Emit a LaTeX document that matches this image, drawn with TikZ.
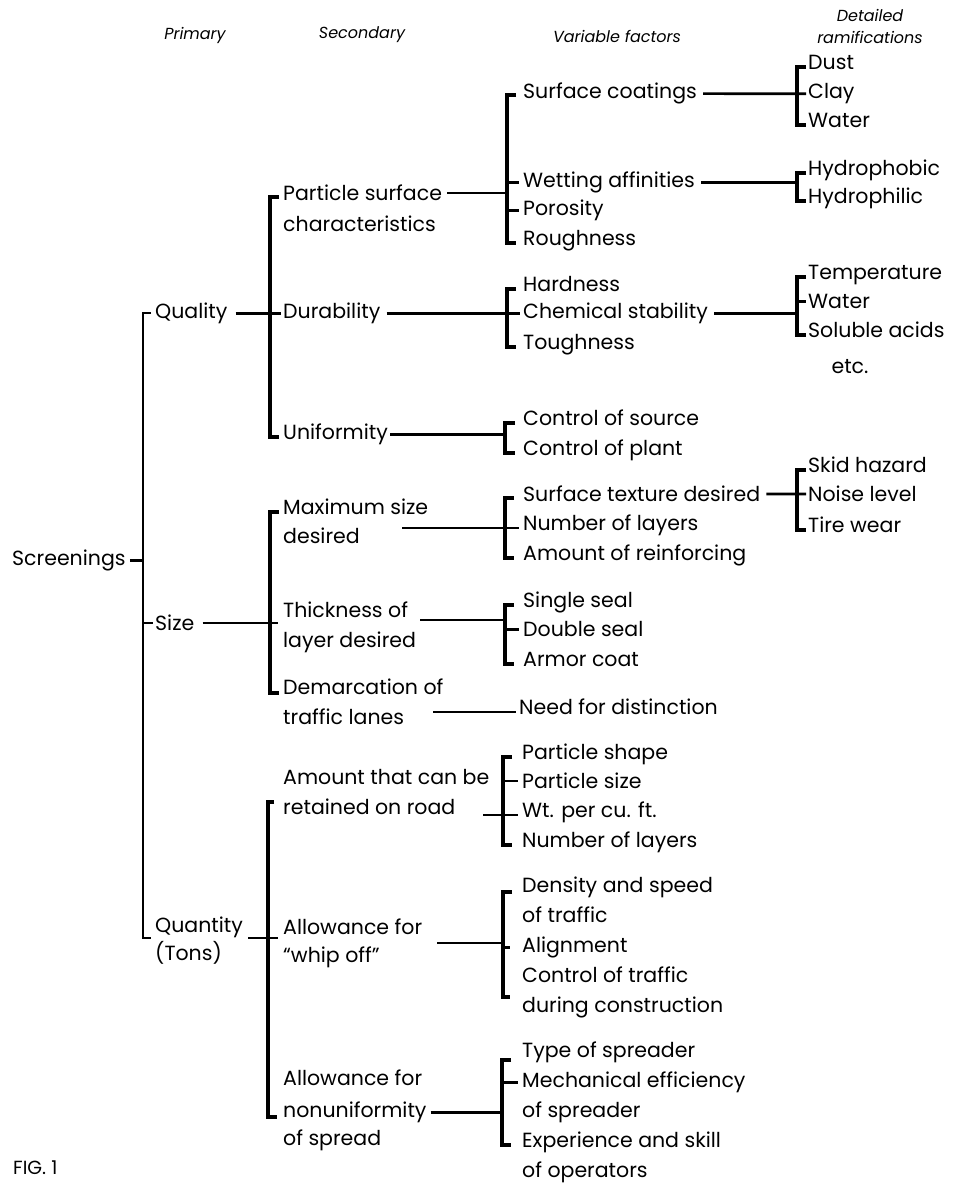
\documentclass[tikz,border=0pt]{standalone}
\usepackage{fontspec}
\setmainfont{Poppins}
\begin{document}
\begin{tikzpicture}[x=1pt,y=-1pt,
  lbl/.style={anchor=mid west, inner sep=0pt, font=\fontsize{20.5}{24}\selectfont},
  hdr/.style={anchor=center, inner sep=0pt, font=\fontsize{16}{22}\selectfont\itshape, align=center},
  ln/.style={line width=2.6pt},
  br/.style={line width=3.2pt, line join=miter},
  brp/.style={line width=2.6pt, line join=miter}]
\useasboundingbox (0,0) rectangle (963,1185);
\fill[white] (0,0) rectangle (963,1185);

% headers
\node[hdr] (hp) at (195,35) {Primary};
\node[hdr] (hs) at (362,35) {Secondary};
\node[hdr] (hv) at (617,36) {Variable factors};
\node[hdr] (hd) at (870,26) {Detailed\\ramifications};

% primary
\node[lbl] (scr) at (12,563) {Screenings};
\node[lbl] (qual) at (155,316) {Quality};
\node[lbl] (size) at (155,628) {Size};
\node[lbl] (quan) at (155,930) {Quantity};
\node[lbl] (tons) at (155,958) {(Tons)};
\coordinate (pt) at (143,313);
\coordinate (pb) at (143,938);
\draw[brp] ([xshift=8]pt) -- (pt) -- (pb) -- ([xshift=8]pb);
\draw[ln] ([xshift=4]scr.east) -- (scr.east -| pt);
\draw[ln] (size.west -| pt) -- ([xshift=-2]size.west);

% secondary A (quality)
\coordinate (sat) at (270,197);
\coordinate (sab) at (270,437);
\draw[br] ([xshift=9]sat) -- (sat) -- (sab) -- ([xshift=9]sab);
\node[lbl] (psc1) at (283,198) {Particle surface};
\node[lbl] (psc2) at (283,229) {characteristics};
\node[lbl] (dur) at (283,316) {Durability};
\node[lbl] (uni) at (283,437) {Uniformity};
\draw[ln] ([xshift=8]qual.east) -- ([xshift=-2]dur.west);

% V1
\coordinate (v1t) at (507,95);
\coordinate (v1b) at (507,243);
\draw[br] ([xshift=9]v1t) -- (v1t) -- (v1b) -- ([xshift=9]v1b);
\node[lbl] (sc) at (523,96) {Surface coatings};
\node[lbl] (wa) at (523,185) {Wetting affinities};
\node[lbl] (por) at (523,213) {Porosity};
\node[lbl] (rou) at (523,243) {Roughness};
\draw[ln] ([xshift=5]psc1.east) -- (psc1.east -| v1t);
\draw[ln] (wa.west -| v1t) -- ([xshift=-4]wa.west);
\draw[ln] (por.west -| v1t) -- ([xshift=-4]por.west);

% D1
\coordinate (d1t) at (797,67);
\coordinate (d1b) at (797,125);
\draw[br] ([xshift=9]d1t) -- (d1t) -- (d1b) -- ([xshift=9]d1b);
\node[lbl] (dust) at (808,67) {Dust};
\node[lbl] (clay) at (808,96) {Clay};
\node[lbl] (water) at (808,125) {Water};
\draw[ln] ([xshift=6]sc.east) -- ([xshift=-2]clay.west);

% D2
\coordinate (d2t) at (797,173);
\coordinate (d2b) at (797,201);
\draw[br] ([xshift=9]d2t) -- (d2t) -- (d2b) -- ([xshift=9]d2b);
\node[lbl] (hyb) at (808,173) {Hydrophobic};
\node[lbl] (hyl) at (808,201) {Hydrophilic};
\draw[ln] ([xshift=6]wa.east) -- (wa.east -| d2t);

% V2
\coordinate (v2t) at (507,289);
\coordinate (v2b) at (507,347);
\draw[br] ([xshift=9]v2t) -- (v2t) -- (v2b) -- ([xshift=9]v2b);
\node[lbl] (hard) at (523,289) {Hardness};
\node[lbl] (cs) at (523,316) {Chemical stability};
\node[lbl] (tough) at (523,347) {Toughness};
\draw[ln] ([xshift=6]dur.east) -- ([xshift=-3]cs.west);

% D3
\coordinate (d3t) at (797,277);
\coordinate (d3b) at (797,335);
\draw[br] ([xshift=9]d3t) -- (d3t) -- (d3b) -- ([xshift=9]d3b);
\node[lbl] (temp) at (808,277) {Temperature};
\node[lbl] (dwat) at (808,306) {Water};
\node[lbl] (sol) at (808,335) {Soluble acids};
\node[lbl, anchor=center] (etc) at (850,367) {etc.};
\draw[ln] ([xshift=6]cs.east) -- (cs.east -| d3t);
\draw[ln] (dwat.west -| d3t) -- ([xshift=-2]dwat.west);

% V3
\coordinate (v3t) at (505,423);
\coordinate (v3b) at (505,453);
\draw[br] ([xshift=10]v3t) -- (v3t) -- (v3b) -- ([xshift=10]v3b);
\node[lbl] (cos) at (523,423) {Control of source};
\node[lbl] (cop) at (523,453) {Control of plant};
\draw[ln] ([xshift=2]uni.east) -- (uni.east -| v3t);

% secondary B (size)
\coordinate (sbt) at (270,512);
\coordinate (sbb) at (270,693);
\draw[br] ([xshift=9]sbt) -- (sbt) -- (sbb) -- ([xshift=9]sbb);
\node[lbl] (msd1) at (283,512) {Maximum size};
\node[lbl] (msd2) at (283,541) {desired};
\node[lbl] (tl1) at (283,615) {Thickness of};
\node[lbl] (tl2) at (283,645) {layer desired};
\node[lbl] (dm1) at (283,692) {Demarcation of};
\node[lbl] (dm2) at (283,722) {traffic lanes};
\draw[ln] ([xshift=8]size.east) -- ([xshift=-5]size.east -| tl1.west);

% V4
\coordinate (v4t) at (505,498);
\coordinate (v4b) at (505,558);
\draw[br] ([xshift=9]v4t) -- (v4t) -- (v4b) -- ([xshift=9]v4b);
\node[lbl] (std) at (523,499) {Surface texture desired};
\node[lbl] (nol) at (523,528) {Number of layers};
\node[lbl] (aor) at (523,558) {Amount of reinforcing};
\coordinate (msdS) at (402,528);
\draw[ln] (msdS) -- ([xshift=-4]msdS -| nol.west);

% D4
\coordinate (d4t) at (797,470);
\coordinate (d4b) at (797,530);
\draw[br] ([xshift=9]d4t) -- (d4t) -- (d4b) -- ([xshift=9]d4b);
\node[lbl] (skid) at (808,470) {Skid hazard};
\node[lbl] (noise) at (808,499) {Noise level};
\node[lbl] (tire) at (808,530) {Tire wear};
\draw[ln] ([xshift=6]std.east) -- ([xshift=-2]noise.west);

% V5
\coordinate (v5t) at (505,605);
\coordinate (v5b) at (505,664);
\draw[br] ([xshift=9]v5t) -- (v5t) -- (v5b) -- ([xshift=9]v5b);
\node[lbl] (ss) at (523,605) {Single seal};
\node[lbl] (dsl) at (523,634) {Double seal};
\node[lbl] (ac) at (523,664) {Armor coat};
\coordinate (tlS) at (420,620);
\draw[ln] (tlS) -- (tlS -| v5t);
\draw[ln] (dsl.west -| v5t) -- ([xshift=-4]dsl.west);

% need for distinction
\node[lbl] (need) at (519,712) {Need for distinction};
\coordinate (dmS) at (433,712);
\draw[ln] (dmS) -- ([xshift=-3]dmS -| need.west);

% secondary C (quantity)
\coordinate (sct) at (268,802);
\coordinate (scb) at (268,1117);
\draw[br] ([xshift=6]sct) -- (sct) -- (scb) -- ([xshift=9]scb);
\node[lbl] (ar1) at (283,782) {Amount that can be};
\node[lbl] (ar2) at (283,812) {retained on road};
\node[lbl] (wo1) at (283,932) {Allowance for};
\node[lbl] (wo2) at (283,960) {``whip off''};
\node[lbl] (nu1) at (283,1083) {Allowance for};
\node[lbl] (nu2) at (283,1115) {nonuniformity};
\node[lbl] (nu3) at (283,1143) {of spread};
\coordinate (quS) at (248,938);
\draw[ln] (quS) -- ([xshift=-5]quS -| wo1.west);

% V6
\coordinate (v6t) at (503,757);
\coordinate (v6b) at (503,845);
\draw[br] ([xshift=9]v6t) -- (v6t) -- (v6b) -- ([xshift=9]v6b);
\node[lbl] (ps) at (522,757) {Particle shape};
\node[lbl] (psz) at (522,786) {Particle size};
\node[lbl] (wt) at (522,815) {Wt. per cu. ft.};
\node[lbl] (nol2) at (522,845) {Number of layers};
\coordinate (arS) at (483,815);
\draw[ln] (arS) -- ([xshift=-4]arS -| wt.west);
\draw[ln] (psz.west -| v6t) -- ([xshift=-4]psz.west);

% V7
\coordinate (v7t) at (503,892);
\coordinate (v7b) at (503,997);
\draw[br] ([xshift=9]v7t) -- (v7t) -- (v7b) -- ([xshift=7]v7b);
\node[lbl] (dsp) at (522,890) {Density and speed};
\node[lbl] (oft) at (522,920) {of traffic};
\node[lbl] (ali) at (522,950) {Alignment};
\node[lbl] (cot) at (522,980) {Control of traffic};
\node[lbl] (dc) at (522,1010) {during construction};
\coordinate (woS) at (437,943);
\draw[ln] (woS) -- (woS -| v7t);
\draw[ln] (ali.west -| v7t) -- ([xshift=-12]ali.west);

% V8
\coordinate (v8t) at (502,1060);
\coordinate (v8b) at (502,1145);
\draw[br] ([xshift=9]v8t) -- (v8t) -- (v8b) -- ([xshift=9]v8b);
\node[lbl] (tos) at (522,1055) {Type of spreader};
\node[lbl] (me) at (522,1085) {Mechanical efficiency};
\node[lbl] (osp) at (522,1115) {of spreader};
\node[lbl] (eas) at (522,1145) {Experience and skill};
\node[lbl] (oo) at (522,1175) {of operators};
\draw[ln] ([xshift=4]nu2.east) -- (nu2.east -| v8t);
\draw[ln] (me.west -| v8t) -- ([xshift=-4]me.west);

% figure label
\node[lbl, font=\fontsize{19}{22}\selectfont] (fig) at (13,1172) {FIG. 1};
\end{tikzpicture}
\end{document}
